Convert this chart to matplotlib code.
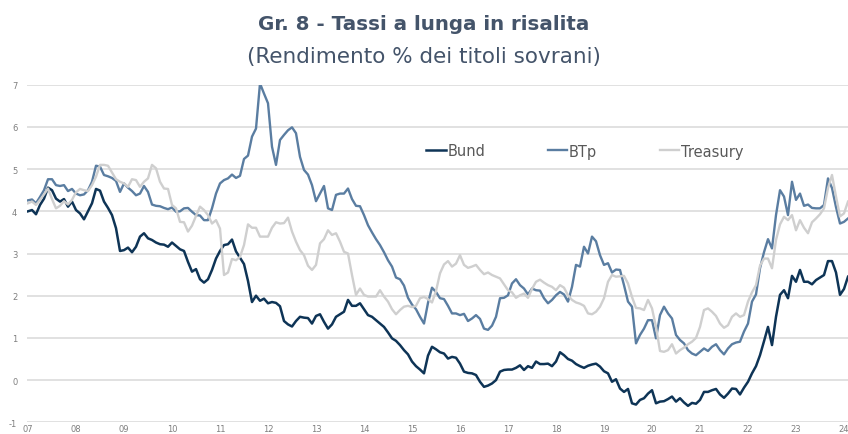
import numpy as np
import matplotlib
matplotlib.use("Agg")
import matplotlib.pyplot as plt

# Rendimenti mensili (%), gen 2007 - feb 2024
bund = [4.0, 4.03, 3.93, 4.15, 4.3, 4.56, 4.5, 4.3, 4.23, 4.29, 4.11, 4.23,
        4.03, 3.95, 3.81, 4.0, 4.19, 4.53, 4.49, 4.23, 4.08, 3.91, 3.6, 3.06,
        3.08, 3.14, 3.03, 3.16, 3.4, 3.48, 3.36, 3.32, 3.26, 3.22, 3.21, 3.16,
        3.26, 3.18, 3.1, 3.06, 2.8, 2.57, 2.63, 2.39, 2.31, 2.39, 2.61, 2.88,
        3.06, 3.2, 3.22, 3.33, 3.05, 2.9, 2.75, 2.35, 1.85, 2.0, 1.88, 1.93,
        1.82, 1.85, 1.83, 1.75, 1.4, 1.32, 1.27, 1.4, 1.5, 1.48, 1.47, 1.34,
        1.52, 1.56, 1.38, 1.22, 1.32, 1.5, 1.56, 1.62, 1.9, 1.76, 1.76, 1.82,
        1.68, 1.54, 1.5, 1.42, 1.34, 1.26, 1.13, 0.99, 0.93, 0.83, 0.71, 0.61,
        0.44, 0.33, 0.25, 0.16, 0.58, 0.79, 0.73, 0.66, 0.63, 0.51, 0.55, 0.53,
        0.39, 0.2, 0.17, 0.16, 0.12, -0.04, -0.16, -0.13, -0.08, 0.0, 0.2, 0.24,
        0.25, 0.25, 0.29, 0.35, 0.24, 0.33, 0.29, 0.44, 0.38, 0.38, 0.39, 0.33,
        0.44, 0.66, 0.59, 0.5, 0.46, 0.38, 0.33, 0.29, 0.34, 0.37, 0.39, 0.32,
        0.21, 0.16, -0.04, 0.02, -0.2, -0.28, -0.21, -0.55, -0.58, -0.47, -0.43, -0.32,
        -0.24, -0.55, -0.51, -0.5, -0.45, -0.39, -0.51, -0.43, -0.53, -0.61, -0.54, -0.56,
        -0.47, -0.28, -0.28, -0.24, -0.21, -0.34, -0.42, -0.32, -0.2, -0.21, -0.34, -0.18,
        -0.04, 0.16, 0.33, 0.59, 0.92, 1.26, 0.83, 1.5, 2.02, 2.13, 1.94, 2.47,
        2.33, 2.61, 2.33, 2.33, 2.27, 2.37, 2.43, 2.49, 2.82, 2.82, 2.55, 2.02,
        2.16, 2.45]

btp = [4.26, 4.28, 4.19, 4.34, 4.5, 4.76, 4.76, 4.62, 4.6, 4.62, 4.48, 4.53,
       4.42, 4.38, 4.4, 4.5, 4.7, 5.08, 5.06, 4.86, 4.83, 4.79, 4.72, 4.46,
       4.66, 4.56, 4.48, 4.38, 4.42, 4.6, 4.46, 4.16, 4.13, 4.12, 4.08, 4.05,
       4.09, 3.99, 4.0, 4.07, 4.08, 3.99, 3.91, 3.9, 3.79, 3.79, 4.07, 4.42,
       4.66, 4.74, 4.78, 4.87, 4.79, 4.84, 5.24, 5.32, 5.77, 5.96, 7.03, 6.79,
       6.56, 5.53, 5.1, 5.69, 5.81, 5.92, 5.99, 5.85, 5.29, 4.98, 4.87, 4.62,
       4.24, 4.42, 4.6, 4.07, 4.03, 4.39, 4.42, 4.42, 4.54, 4.29, 4.13, 4.12,
       3.91, 3.67, 3.5, 3.34, 3.2, 3.03, 2.84, 2.69, 2.43, 2.39, 2.24, 1.95,
       1.79, 1.68, 1.5, 1.34, 1.83, 2.19, 2.09, 1.94, 1.92, 1.76, 1.58, 1.58,
       1.54, 1.57, 1.4, 1.46, 1.54, 1.45, 1.22, 1.19, 1.29, 1.5, 1.94, 1.95,
       2.01, 2.29, 2.39, 2.25, 2.17, 2.03, 2.17, 2.13, 2.12, 1.94, 1.82, 1.9,
       2.01, 2.09, 2.03, 1.86, 2.21, 2.73, 2.69, 3.16, 3.0, 3.4, 3.29, 2.96,
       2.73, 2.77, 2.55, 2.62, 2.61, 2.25, 1.86, 1.74, 0.87, 1.07, 1.22, 1.42,
       1.42, 0.99, 1.54, 1.74, 1.58, 1.46, 1.07, 0.95, 0.87, 0.71, 0.63, 0.59,
       0.67, 0.75, 0.69, 0.79, 0.85, 0.71, 0.61, 0.75, 0.85, 0.89, 0.91, 1.15,
       1.34, 1.86, 2.03, 2.65, 3.03, 3.34, 3.12, 3.91, 4.5, 4.35, 3.91, 4.7,
       4.27, 4.42, 4.13, 4.16, 4.08, 4.07, 4.07, 4.15, 4.78, 4.55, 4.1, 3.71,
       3.75, 3.83]

treasury = [4.19, 4.23, 4.15, 4.27, 4.4, 4.54, 4.29, 4.07, 4.13, 4.24, 4.16, 4.27,
            4.45, 4.53, 4.5, 4.48, 4.62, 4.82, 5.1, 5.1, 5.08, 4.92, 4.76, 4.7,
            4.66, 4.58, 4.76, 4.74, 4.58, 4.7, 4.78, 5.1, 5.02, 4.7, 4.54, 4.53,
            4.15, 4.07, 3.75, 3.74, 3.52, 3.66, 3.89, 4.11, 4.03, 3.91, 3.71, 3.79,
            3.59, 2.49, 2.55, 2.87, 2.84, 2.92, 3.2, 3.69, 3.61, 3.61, 3.4, 3.4,
            3.4, 3.61, 3.74, 3.71, 3.72, 3.85, 3.52, 3.28, 3.08, 2.96, 2.71, 2.61,
            2.73, 3.24, 3.34, 3.55, 3.44, 3.48, 3.28, 3.04, 3.0, 2.49, 2.02, 2.17,
            2.02, 1.98, 1.98, 1.98, 2.13, 1.98, 1.86, 1.68, 1.56, 1.66, 1.74, 1.76,
            1.73, 1.76, 1.94, 1.97, 1.92, 1.84, 2.11, 2.53, 2.74, 2.82, 2.69, 2.76,
            2.96, 2.73, 2.66, 2.69, 2.73, 2.61, 2.51, 2.55, 2.49, 2.45, 2.41, 2.27,
            2.13, 2.08, 1.95, 2.01, 2.05, 1.95, 2.16, 2.33, 2.38, 2.31, 2.25, 2.21,
            2.13, 2.25, 2.19, 2.01, 1.9, 1.84, 1.81, 1.76, 1.58, 1.56, 1.62, 1.74,
            1.94, 2.33, 2.49, 2.45, 2.46, 2.47, 2.29, 1.97, 1.71, 1.7, 1.66, 1.9,
            1.7, 1.26, 0.69, 0.67, 0.71, 0.85, 0.63, 0.71, 0.77, 0.85, 0.91, 1.0,
            1.26, 1.66, 1.7, 1.62, 1.52, 1.34, 1.24, 1.3, 1.5, 1.58, 1.5, 1.54,
            1.86, 2.08, 2.25, 2.71, 2.88, 2.88, 2.65, 3.32, 3.69, 3.87, 3.79, 3.91,
            3.55, 3.79, 3.61, 3.48, 3.74, 3.83, 3.93, 4.07, 4.55, 4.86, 4.35, 3.88,
            3.95, 4.23]

anni = ["07", "08", "09", "10", "11", "12", "13", "14", "15", "16", "17",
        "18", "19", "20", "21", "22", "23", "24"]

mesi = np.arange(len(bund))

plt.rcParams["font.family"] = ["DejaVu Sans"]
plt.rcParams["axes.unicode_minus"] = False

fig = plt.figure(figsize=(8.48, 4.35), dpi=100)
ax = fig.add_axes([27 / 848, 11.7 / 435, 821 / 848, 337.6 / 435])

ax.plot(mesi, bund, color="#0e3456", lw=1.8, label="Bund")
ax.plot(mesi, btp, color="#5a7da1", lw=1.7, label="BTp")
ax.plot(mesi, treasury, color="#cfcfcf", lw=1.7, label="Treasury")

ax.set_xlim(-0.25, 205)
ax.set_ylim(-1, 7)
ax.set_yticks(range(-1, 8))
ax.set_xticks(np.arange(len(anni)) * 12)
ax.set_xticklabels(anni)
ax.tick_params(length=0, labelsize=6, labelcolor="#7f7f7f")
ax.tick_params(axis="y", pad=7)
ax.tick_params(axis="x", pad=1.2)
ax.grid(axis="y", color="#d9d9d9", lw=1.1)
ax.set_axisbelow(True)
for s in ax.spines.values():
    s.set_visible(False)

leg = fig.legend(loc="center left", bbox_to_anchor=(426 / 848, 1 - 152 / 435),
                 ncol=3, frameon=False, fontsize=10.5, handlelength=1.35,
                 handletextpad=0.1, columnspacing=4.3, borderpad=0,
                 borderaxespad=0)
for t in leg.get_texts():
    t.set_color("#595959")

fig.text(0.5, 1 - 24 / 435, "Gr. 8 - Tassi a lunga in risalita", ha="center",
         va="center", fontsize=14.3, fontweight="bold", color="#44546a")
fig.text(0.5, 1 - 57 / 435, "(Rendimento % dei titoli sovrani)", ha="center",
         va="center", fontsize=15.5, color="#44546a")

fig.savefig("out.png", dpi=100)
plt.close(fig)
